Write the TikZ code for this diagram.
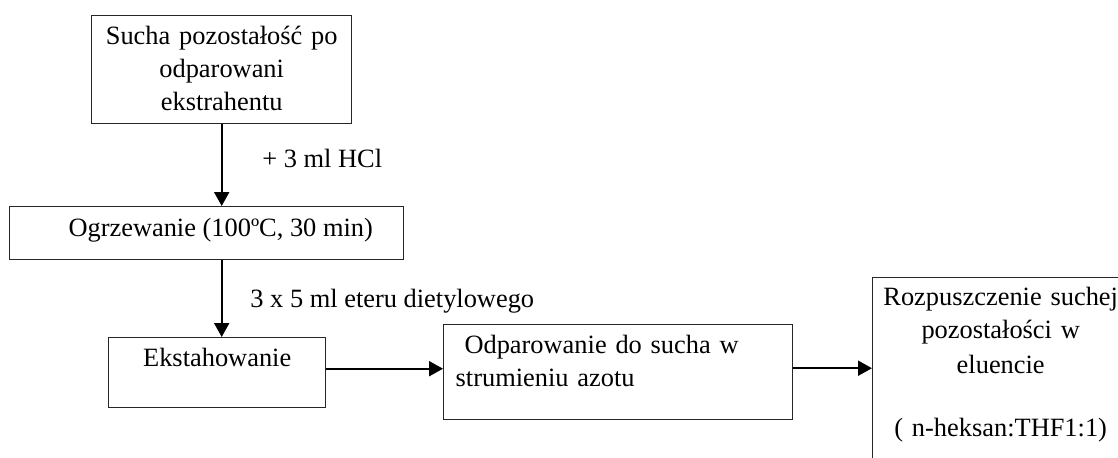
\documentclass[tikz,border=0pt]{standalone}
\usepackage{fontspec}
\setmainfont{Liberation Serif}
\usetikzlibrary{arrows.meta}

\tikzset{
  box/.style={draw=black!85, line width=0.7pt, inner xsep=0pt, inner ysep=0pt, anchor=north west, align=center},
  arr/.style={-{Triangle[length=7pt,width=7.5pt]}, line width=1pt},
  opis/.style={anchor=base west, inner sep=0pt}
}

\begin{document}
\begin{tikzpicture}[x=0.5pt, y=-0.5pt, font=\fontsize{13.2}{16.5}\selectfont]
    \useasboundingbox (0,0) rectangle (1118,457);
    \clip (0,0) rectangle (1118,457);
    % boxes
    \node (suche) at (91,15)[box, text width=130pt, text height=14.5pt, text depth=39.5pt]{Sucha pozostałość po\\odparowani\\ekstrahentu};
    \node (ogrz) at (9,206)[box, minimum width=197pt, text height=15pt, text depth=11.5pt]{\hspace{14pt}Ogrzewanie (100ºC, 30 min)};
    \node (ekst) at (108,337)[box, minimum width=108.5pt, text height=14.5pt, text depth=20.5pt]{Ekstahowanie};
    \node (odp) at (443,324)[box, align=left, inner xsep=6pt, text width=162.5pt, text height=14.5pt, text depth=33pt]{\ Odparowanie do sucha w\\strumieniu azotu};
    \node (rozp) at (872,277)[box, text width=128pt, text height=14pt, text depth=90pt]{Rozpuszczenie suchej\\pozostałości w\\[1pt]eluencie\\[15pt]( n-heksan:THF1:1)};
    % arrows
    \draw[arr] (suche.south) -- (suche.south |- ogrz.north);
    \draw[arr] (suche.south |- ogrz.south) -- (suche.south |- ekst.north);
    \foreach \a/\b in {ekst/odp, odp/rozp}{
    \draw[arr] ([yshift=2pt]\a.east) -- ([yshift=2pt]\a.east -| \b.west);
    }
    \node (hcl) at (262,167)[opis]{+ 3 ml HCl};
    \node (eter) at (250,307)[opis]{3 x 5 ml eteru dietylowego};
\end{tikzpicture}
\end{document}
